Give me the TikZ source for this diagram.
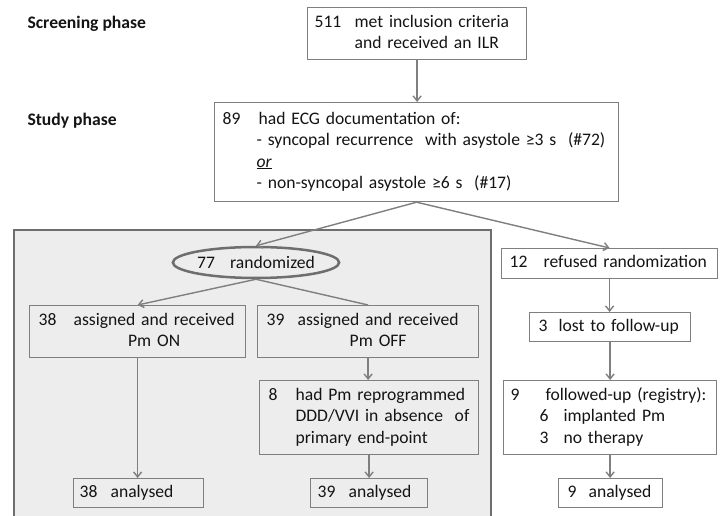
\documentclass[tikz,border=0pt]{standalone}
\usepackage{fontspec}
\setmainfont{Carlito}
\usetikzlibrary{arrows.meta,shapes.geometric}
\definecolor{bgray}{HTML}{7F7F7F}
\definecolor{pgray}{HTML}{6E6E6E}
\definecolor{pfill}{HTML}{EDEDED}
\definecolor{tcol}{HTML}{141414}
\newcommand\rtab[2]{\begin{tabular}{@{}p{#1}@{}l@{}}#2\end{tabular}}
\newcommand\ctab[2]{\begin{tabular}{@{}p{#1}@{}c@{}}#2\end{tabular}}
\begin{document}
\begin{tikzpicture}[x=1pt,y=-1pt,
  every node/.style={font=\fontsize{17.6pt}{21.5pt}\selectfont, text=tcol},
  bx/.style={draw=bgray, line width=1.2pt, anchor=north west, inner ysep=0pt, align=left},
  conn/.style={draw=bgray, line width=1.4pt},
  arr/.style={conn, -{Straight Barb[length=5pt,width=8pt]}},
  lbl/.style={anchor=base west, font=\fontsize{17.6pt}{21.5pt}\selectfont\bfseries}]
\useasboundingbox (0,0) rectangle (721,516);
\fill[white] (0,0) rectangle (721,516);
% panel
\draw[draw=pgray, fill=pfill, line width=2.5pt] (14,230) rectangle (491,530);
% phase labels
\node[lbl] (lscr) at (24,29) {Screening phase};
\node[lbl] (lstu) at (24,126) {Study phase};
% boxes
\node[bx, fill=white, text width=205pt, inner xsep=7pt, minimum height=52pt] (b511) at (307,7)
  {\rtab{40pt}{511 & met inclusion criteria\\ & and received an ILR}};
\node[bx, fill=white, text width=388pt, inner xsep=8pt, minimum height=99pt] (b89) at (214,102)
  {\rtab{34pt}{89 & \hspace{2pt}had ECG documentation of:\\
   & - syncopal recurrence\ \ with asystole ≥3 s\ \ (\#72)\\
   & \underline{\textit{or}}\\
   & - non-syncopal asystole ≥6 s\ \ (\#17)}};
\node[ellipse, draw=pgray, line width=2.5pt, minimum width=162pt, minimum height=31pt, inner sep=0pt] (rand) at (256,262.5)
  {\makebox[33pt][l]{77}randomized};
\node[bx, text width=198pt, inner xsep=9pt, minimum height=52pt] (b38) at (29,305)
  {\ctab{35pt}{38 & assigned and received\\ & Pm ON}};
\node[bx, text width=203pt, inner xsep=9pt, minimum height=52pt] (b39) at (257,305)
  {\ctab{31pt}{39 & assigned and received\\ & Pm OFF}};
\node[bx, text width=201pt, inner xsep=9pt, minimum height=74pt] (b8) at (259,380)
  {\rtab{27pt}{8 & had Pm reprogrammed\\ & DDD/VVI in absence\ \ of\\ & primary end-point}};
\node[bx, text width=118pt, inner xsep=6pt, minimum height=29pt] (a38) at (73,478)
  {\rtab{31pt}{38 & analysed}};
\node[bx, text width=103pt, inner xsep=7pt, minimum height=29pt] (a39) at (310,478)
  {\rtab{31pt}{39 & analysed}};
\node[bx, fill=white, text width=200pt, inner xsep=8pt, minimum height=30pt] (b12) at (501,248)
  {\rtab{34pt}{12 & refused randomization}};
\node[bx, fill=white, text width=143pt, inner xsep=9pt, minimum height=29pt] (b3) at (529,312)
  {\rtab{20pt}{3 & lost to follow-up}};
\node[bx, fill=white, text width=199pt, inner xsep=7pt, minimum height=74pt] (b9) at (503,380)
  {\begin{tabular}{@{}p{29pt}@{}p{24pt}@{}l@{}}9 & \multicolumn{2}{l@{}}{followed-up (registry):}\\ & 6 & implanted Pm\\ & 3 & no therapy\end{tabular}};
\node[bx, fill=white, text width=86pt, inner xsep=9pt, minimum height=29pt] (a9) at (558,478)
  {\rtab{21pt}{9 & analysed}};
% connectors
\draw[arr] (b511.south) -- (b511.south |- b89.north);
\draw[arr] (b89.south) -- (rand.north);
\draw[arr] (b89.south) -- (b12.north);
\draw[arr] (rand.south) -- (b38.north);
\draw[conn] (rand.south) -- (b39.north);
\draw[arr] (b38.south) -- (b38.south |- a38.north);
\draw[arr] (b39.south) -- (b39.south |- b8.north);
\draw[arr] (b8.south) -- (b8.south |- a39.north);
\draw[arr] (b12.south) -- (b12.south |- b3.north);
\draw[arr] (b3.south) -- (b3.south |- b9.north);
\draw[arr] (b9.south) -- (b9.south |- a9.north);
\end{tikzpicture}
\end{document}
